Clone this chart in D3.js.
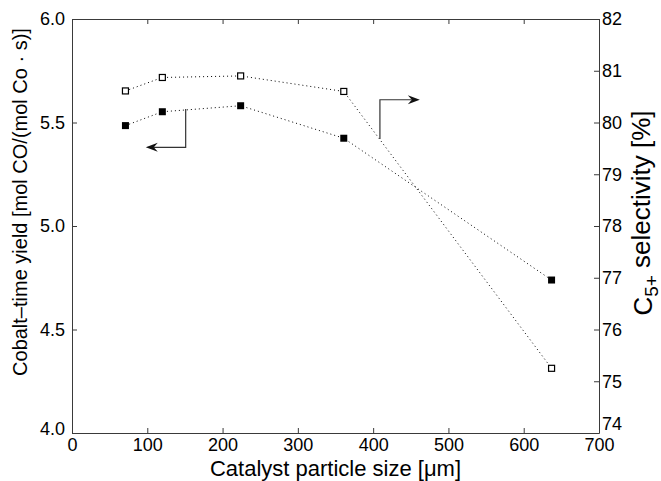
<!DOCTYPE html>
<html>
<head>
<meta charset="utf-8">
<script src="https://cdn.jsdelivr.net/npm/d3@7"></script>
<style>
  html, body { margin: 0; padding: 0; background: #fff; }
  svg { display: block; font-family: "Liberation Sans", Arial, sans-serif; }
</style>
</head>
<body>
<svg id="chart" width="661" height="481"></svg>
<script>
// Particle size (µm) for each catalyst sample
const particleSize = [71, 120, 224, 361, 637];
// Cobalt-time yield, mol CO/(mol Co·s) — left axis, filled squares
const cobaltTimeYield = [5.485, 5.552, 5.581, 5.424, 4.739];
// C5+ selectivity, % — right axis, open squares
const c5Selectivity = [80.61, 80.87, 80.90, 80.60, 75.25];

const xTicks = [0, 100, 200, 300, 400, 500, 600, 700];
const yLeftTicks = [4.0, 4.5, 5.0, 5.5, 6.0];
const yRightTicks = [74, 75, 76, 77, 78, 79, 80, 81, 82];

// Pointer arrows: start on a series, bend, end with an arrowhead toward its axis
const yieldArrow = [[151, 5.565], [151, 5.38], [98, 5.38]];       // left-axis units
const selectivityArrow = [[409, 79.68], [409, 80.44], [462, 80.44]]; // right-axis units

const margin = { left: 72, right: 62, top: 19, bottom: 48 };
const W = 661, H = 481;
const svg = d3.select("#chart");

const x = d3.scaleLinear().domain([0, 700]).range([margin.left, W - margin.right]);
const yL = d3.scaleLinear().domain([4, 6]).range([H - margin.bottom, margin.top]);
const yR = d3.scaleLinear().domain([74, 82]).range([H - margin.bottom, margin.top]);

const axisColor = "#3a3a3a";
const tickLen = 5;
const tickFont = "18px";

// Axes (ticks pointing inward)
const gx = svg.append("g").attr("transform", `translate(0,${yL.range()[0]})`)
  .call(d3.axisBottom(x).tickValues(xTicks).tickFormat(d3.format("d")).tickSizeInner(-tickLen).tickSizeOuter(0).tickPadding(5));
const gxTop = svg.append("g").attr("transform", `translate(0,${yL.range()[1]})`)
  .call(d3.axisTop(x).tickValues(xTicks).tickFormat("").tickSizeInner(-tickLen).tickSizeOuter(0));
const gyL = svg.append("g").attr("transform", `translate(${x.range()[0]},0)`)
  .call(d3.axisLeft(yL).tickValues(yLeftTicks).tickFormat(d3.format(".1f")).tickSizeInner(-tickLen).tickSizeOuter(0).tickPadding(7));
const gyR = svg.append("g").attr("transform", `translate(${x.range()[1]},0)`)
  .call(d3.axisRight(yR).tickValues(yRightTicks).tickFormat(d3.format("d")).tickSizeInner(-tickLen).tickSizeOuter(0).tickPadding(3));

[gx, gxTop, gyL, gyR].forEach(g => {
  g.select(".domain").attr("stroke", axisColor).attr("stroke-width", 1);
  g.selectAll(".tick line").attr("stroke", axisColor);
  g.selectAll(".tick text").attr("fill", "#000").style("font-size", tickFont);
});
// the corner labels sit slightly above the axis ends
gyL.selectAll(".tick text").filter(d => d === 4.0).attr("dy", "0.1em");
gyR.selectAll(".tick text").filter(d => d === 74).attr("dy", "-0.2em");

// Dotted connecting lines
const lineL = d3.line().x((d, i) => x(particleSize[i])).y(d => yL(d));
const lineR = d3.line().x((d, i) => x(particleSize[i])).y(d => yR(d));

svg.append("path").datum(cobaltTimeYield).attr("d", lineL)
  .attr("fill", "none").attr("stroke", "#000").attr("stroke-width", 1)
  .attr("stroke-dasharray", "1,3");
svg.append("path").datum(c5Selectivity).attr("d", lineR)
  .attr("fill", "none").attr("stroke", "#000").attr("stroke-width", 1)
  .attr("stroke-dasharray", "1,3");

// Markers
const ms = 7;
svg.append("g").selectAll("rect").data(cobaltTimeYield).join("rect")
  .attr("x", (d, i) => x(particleSize[i]) - ms / 2)
  .attr("y", d => yL(d) - ms / 2)
  .attr("width", ms).attr("height", ms).attr("fill", "#000");
svg.append("g").selectAll("rect").data(c5Selectivity).join("rect")
  .attr("x", (d, i) => x(particleSize[i]) - ms / 2 + 0.5)
  .attr("y", d => yR(d) - ms / 2 + 0.5)
  .attr("width", ms - 1).attr("height", ms - 1)
  .attr("fill", "#fff").attr("stroke", "#000").attr("stroke-width", 1.2);

// Arrows
function drawArrow(pts, yScale) {
  const p = pts.map(d => [x(d[0]), yScale(d[1])]);
  const end = p[p.length - 1], prev = p[p.length - 2];
  const ang = Math.atan2(end[1] - prev[1], end[0] - prev[0]);
  const len = 12, half = 4.5, notch = 8;
  const back = [end[0] - len * Math.cos(ang), end[1] - len * Math.sin(ang)];
  const nb = [end[0] - notch * Math.cos(ang), end[1] - notch * Math.sin(ang)];
  const px = -Math.sin(ang), py = Math.cos(ang);
  const shaft = p.slice(0, -1).concat([nb]);
  svg.append("path").attr("d", d3.line()(shaft))
    .attr("fill", "none").attr("stroke", "#333").attr("stroke-width", 1.2);
  svg.append("path")
    .attr("d", d3.line()([end, [back[0] + px * half, back[1] + py * half], nb, [back[0] - px * half, back[1] - py * half]]) + "Z")
    .attr("fill", "#111");
}
drawArrow(yieldArrow, yL);
drawArrow(selectivityArrow, yR);

// Axis titles
svg.append("text")
  .attr("x", (x.range()[0] + x.range()[1]) / 2).attr("y", 476)
  .attr("text-anchor", "middle").style("font-size", "22px")
  .text("Catalyst particle size [\u03BCm]");

svg.append("text")
  .attr("transform", `translate(27,202) rotate(-90)`)
  .attr("text-anchor", "middle").style("font-size", "20px")
  .text("Cobalt\u2013time yield [mol CO/(mol Co \u00B7 s)]");

const rt = svg.append("text")
  .attr("transform", `translate(652,213) rotate(-90)`)
  .attr("text-anchor", "middle").style("font-size", "26px");
rt.append("tspan").text("C");
rt.append("tspan").attr("dy", "0.33em").style("font-size", "19px").text("5+");
rt.append("tspan").attr("dy", "-0.33em").text(" selectivity [%]");
</script>
</body>
</html>
